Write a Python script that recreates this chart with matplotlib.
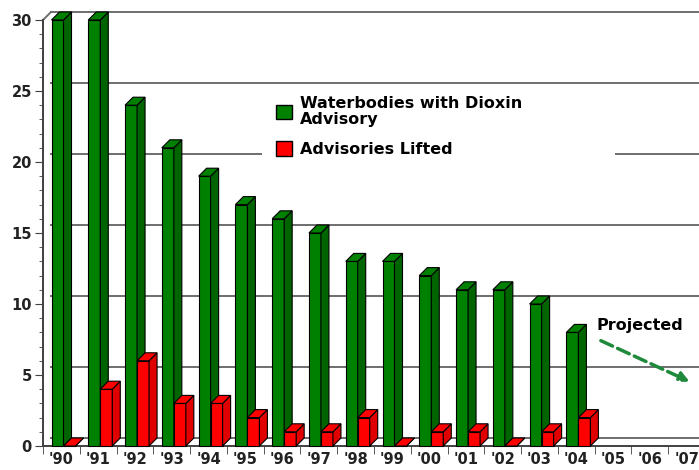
import matplotlib
matplotlib.use('Agg')
import matplotlib.pyplot as plt
from matplotlib.patches import Polygon, Rectangle, Patch
import numpy as np

years = ["'90", "'91", "'92", "'93", "'94", "'95", "'96", "'97", "'98",
         "'99", "'00", "'01", "'02", "'03", "'04", "'05", "'06", "'07"]
waterbodies = [30, 30, 24, 21, 19, 17, 16, 15, 13, 13, 12, 11, 11, 10, 8, None, None, None]
lifted = [0, 4, 6, 3, 3, 2, 1, 1, 2, 0, 1, 1, 0, 1, 2, None, None, None]

W, H = 699, 470
fig = plt.figure(figsize=(W / 100, H / 100), dpi=100)
ax_l, ax_b, ax_w, ax_h = 43, 24, 662, 426   # pixels
ax = fig.add_axes([ax_l / W, ax_b / H, ax_w / W, ax_h / H])
ax.set_xlim(-0.5, len(years) - 0.5)
ax.set_ylim(0, 30)

# pixel -> data unit helpers
px_x = len(years) / ax_w
px_y = 30 / ax_h
dx, dy = 8 * px_x, 8 * px_y

GREEN, GREEN_SIDE = '#008000', '#006400'
RED, RED_SIDE = '#ff0000', '#e00000'
GRID = '#6e6e6e'

# back wall grid lines
for v in range(0, 31, 5):
    ax.plot([-0.5 + dx, len(years) + 1], [v + dy, v + dy], color=GRID, lw=1.4,
            zorder=0, clip_on=False)
ax.plot([-0.5, -0.5 + dx], [30, 30 + dy], color=GRID, lw=1.4, zorder=0, clip_on=False)

# legend background
ax.add_patch(Rectangle((0.331, 0.643), 0.533, 0.204, transform=ax.transAxes,
                       facecolor='white', edgecolor='none', zorder=1))


def bar3d(x0, w, h, face, side):
    kw = dict(edgecolor='black', lw=0.8, zorder=3, clip_on=False)
    ax.add_patch(Rectangle((x0, 0), w, h, facecolor=face, **kw))
    ax.add_patch(Polygon([(x0 + w, 0), (x0 + w + dx, dy), (x0 + w + dx, h + dy), (x0 + w, h)],
                         facecolor=side, **kw))
    ax.add_patch(Polygon([(x0, h), (x0 + dx, h + dy), (x0 + w + dx, h + dy), (x0 + w, h)],
                         facecolor=face, **kw))


bw = 12 * px_x
for i in range(len(years)):
    if waterbodies[i] is not None:
        bar3d(i - 0.5 + 8.5 * px_x, bw, waterbodies[i], GREEN, GREEN_SIDE)
    if lifted[i] is not None:
        bar3d(i - 0.5 + 20.5 * px_x, bw, lifted[i], RED, RED_SIDE)

# axes styling
for s in ['top', 'right']:
    ax.spines[s].set_visible(False)
ax.spines['left'].set_color('#404040')
ax.spines['bottom'].set_color('#404040')
ax.spines['left'].set_linewidth(1.4)
ax.spines['bottom'].set_linewidth(1.4)

ax.set_yticks(range(0, 31, 5))
ax.set_yticks(range(0, 31), minor=True)
ax.set_xticks(range(len(years)))
ax.set_xticklabels(years)
ax.set_xticks(np.arange(-0.5, len(years), 1), minor=True)
ax.tick_params(axis='x', which='major', length=0, pad=4)
ax.tick_params(axis='x', which='minor', length=6, color='#404040')
ax.tick_params(axis='y', which='major', length=6, color='#404040', pad=2)
ax.tick_params(axis='y', which='minor', length=3, color='#404040')
for lab in ax.get_xticklabels() + ax.get_yticklabels():
    lab.set_fontweight('bold')
    lab.set_fontsize(10.5)
    lab.set_color('#222222')

leg = ax.legend(handles=[Patch(facecolor=GREEN, edgecolor='black'),
                         Patch(facecolor=RED, edgecolor='black')],
                labels=['Waterbodies with Dioxin\nAdvisory', 'Advisories Lifted'],
                loc='upper left', bbox_to_anchor=(262 / W, 1 - 82 / H),
                bbox_transform=fig.transFigure, frameon=False,
                prop={'weight': 'bold', 'size': 11.5}, handlelength=1.0,
                handleheight=1.0, handletextpad=0.45, labelspacing=0.9)
for t in leg.get_texts():
    t.set_linespacing(1.05)
leg.set_zorder(5)

ax.text(14.55, 8.2, 'Projected', fontsize=11.5, fontweight='bold', zorder=5)
ax.annotate('', xy=(17.15, 4.45), xytext=(14.6, 7.5),
            arrowprops=dict(arrowstyle='-|>', linestyle='--', color='#1f8a3c',
                            lw=2.5, mutation_scale=14), zorder=5, annotation_clip=False)

fig.savefig('out.png', dpi=100)
